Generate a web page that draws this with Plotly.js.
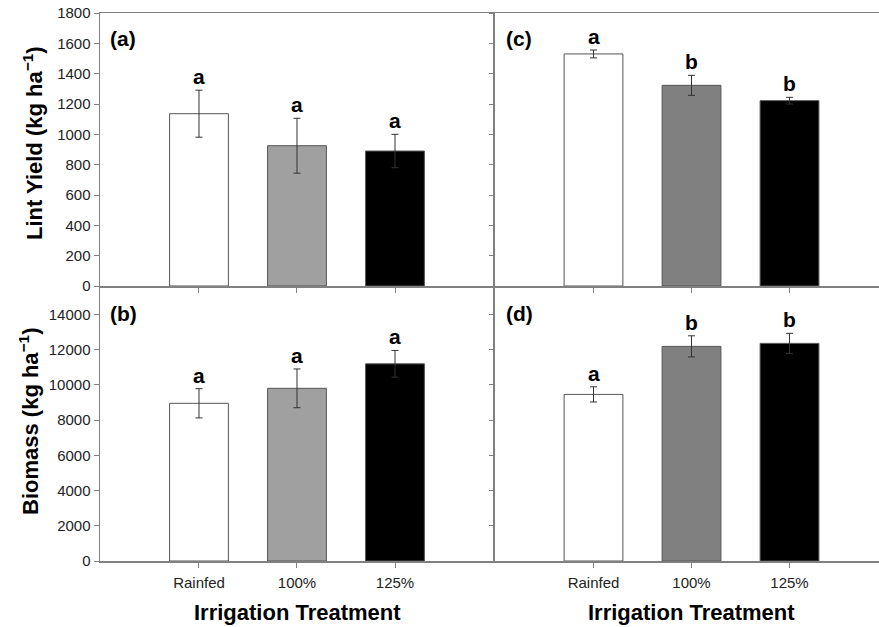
<!DOCTYPE html>
<html>
<head>
<meta charset="utf-8">
<script src="https://cdn.plot.ly/plotly-3.0.1.min.js"></script>
<style>html,body{margin:0;padding:0;background:#fff;}#chart{width:879px;height:627px;}</style>
</head>
<body>
<div id="chart"></div>
<script>
const categories = ['Rainfed', '100%', '125%'];

// (a) Lint yield, site 1
const lintA = [1136, 925, 890];
const lintAErr = [155, 181, 110];
const lettersA = ['a', 'a', 'a'];
// (c) Lint yield, site 2
const lintC = [1530, 1323, 1222];
const lintCErr = [26, 66, 22];
const lettersC = ['a', 'b', 'b'];
// (b) Biomass, site 1
const bioB = [8950, 9800, 11190];
const bioBErr = [830, 1100, 760];
const lettersB = ['a', 'a', 'a'];
// (d) Biomass, site 2
const bioD = [9455, 12180, 12350];
const bioDErr = [430, 600, 570];
const lettersD = ['a', 'b', 'b'];

const leftColors = ['#ffffff', '#a0a0a0', '#000000'];
const rightColors = ['#ffffff', '#808080', '#000000'];

const FONT = 'Arial, "Liberation Sans", sans-serif';
const AX = '#808080';

function barTrace(vals, errs, colors, xa, ya) {
  return {
    type: 'bar', x: categories, y: vals, xaxis: xa, yaxis: ya,
    width: categories.map(() => 0.6),
    marker: {color: colors, line: {color: '#555555', width: 1}},
    error_y: {type: 'data', array: errs, visible: true, color: '#333333', thickness: 1, width: 3.5},
    showlegend: false, hoverinfo: 'skip'
  };
}

const data = [
  barTrace(lintA, lintAErr, leftColors, 'x', 'y'),
  barTrace(lintC, lintCErr, rightColors, 'x2', 'y2'),
  barTrace(bioB, bioBErr, leftColors, 'x3', 'y3'),
  barTrace(bioD, bioDErr, rightColors, 'x4', 'y4')
];

const annotations = [];
function letters(vals, errs, labs, xa, ya) {
  categories.forEach((c, i) => {
    annotations.push({
      x: c, y: vals[i] + errs[i], xref: xa, yref: ya, text: '<b>' + labs[i] + '</b>',
      showarrow: false, yanchor: 'bottom', xanchor: 'center', yshift: 0,
      font: {family: FONT, size: 21, color: '#000'}
    });
  });
}
letters(lintA, lintAErr, lettersA, 'x', 'y');
letters(lintC, lintCErr, lettersC, 'x2', 'y2');
letters(bioB, bioBErr, lettersB, 'x3', 'y3');
letters(bioD, bioDErr, lettersD, 'x4', 'y4');

// pixel -> paper helpers (plot area: left 100, top 13, width 779, height 548)
const px = v => (v - 100) / 779;
const py = v => 1 - (v - 13) / 548;

[['(a)', 108, 38], ['(c)', 504, 38], ['(b)', 108, 313], ['(d)', 504, 313]].forEach(p => {
  annotations.push({
    text: '<b>' + p[0] + '</b>', xref: 'paper', yref: 'paper', x: px(p[1]), y: py(p[2]),
    xanchor: 'left', yanchor: 'middle', showarrow: false,
    font: {family: FONT, size: 21, color: '#000'}
  });
});

annotations.push({
  text: '<b>Lint Yield (kg ha<sup>−1</sup>)</b>', xref: 'paper', yref: 'paper',
  x: px(33), y: py(143), xanchor: 'center', yanchor: 'middle', textangle: -90, showarrow: false,
  font: {family: FONT, size: 22, color: '#000'}
});
annotations.push({
  text: '<b>Biomass (kg ha<sup>−1</sup>)</b>', xref: 'paper', yref: 'paper',
  x: px(29), y: py(421), xanchor: 'center', yanchor: 'middle', textangle: -90, showarrow: false,
  font: {family: FONT, size: 22, color: '#000'}
});
[297, 691].forEach(cx => {
  annotations.push({
    text: '<b>Irrigation Treatment</b>', xref: 'paper', yref: 'paper',
    x: px(cx), y: py(612), xanchor: 'center', yanchor: 'middle', showarrow: false,
    font: {family: FONT, size: 22, color: '#000'}
  });
});

function xAxis(domain, range, anchor, labels) {
  return {
    domain: domain, range: range, anchor: anchor, type: 'category',
    showline: true, linecolor: AX, linewidth: 1.5, mirror: true,
    ticks: 'outside', ticklen: 5, tickcolor: AX, tickwidth: 1,
    showticklabels: labels, showgrid: false, zeroline: false,
    tickfont: {family: FONT, size: 15, color: '#222'}, ticklabelstandoff: 2
  };
}
function yAxis(domain, range, anchor, labels, mirror, dtick) {
  return {
    domain: domain, range: range, anchor: anchor, tick0: 0, dtick: dtick, tickformat: 'd',
    showline: true, linecolor: AX, linewidth: 1.5, mirror: mirror,
    ticks: 'outside', ticklen: 5, tickcolor: AX, tickwidth: 1,
    showticklabels: labels, showgrid: false, zeroline: false,
    tickfont: {family: FONT, size: 15, color: '#222'}
  };
}

const dL = [0, 393 / 779], dR = [395 / 779, 1];
const dT = [1 - 273 / 548, 1], dB = [0, 1 - 274 / 548];
const rL = [-1.01, 3.0], rR = [-1.005, 2.913];

const layout = {
  width: 879, height: 627,
  margin: {l: 100, r: 0, t: 13, b: 66},
  paper_bgcolor: '#fff', plot_bgcolor: '#fff',
  font: {family: FONT},
  xaxis: xAxis(dL, rL, 'y', false),
  yaxis: yAxis(dT, [0, 1800], 'x', true, true, 200),
  xaxis2: xAxis(dR, rR, 'y2', false),
  yaxis2: yAxis(dT, [0, 1800], 'x2', false, false, 200),
  xaxis3: xAxis(dL, rL, 'y3', true),
  yaxis3: yAxis(dB, [0, 15550], 'x3', true, true, 2000),
  xaxis4: xAxis(dR, rR, 'y4', true),
  yaxis4: yAxis(dB, [0, 15550], 'x4', false, false, 2000),
  annotations: annotations,
  showlegend: false
};

Plotly.newPlot('chart', data, layout, {staticPlot: true, displayModeBar: false});
</script>
</body>
</html>
